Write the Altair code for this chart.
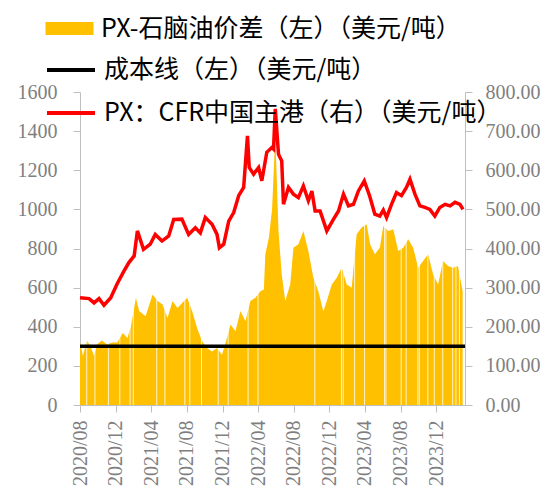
import altair as alt
import pandas as pd

# ---- data ----
spread_name = "PX-石脑油价差（左）（美元/吨）"
cost_name = "成本线（左）（美元/吨）"
price_name = "PX：CFR中国主港（右）（美元/吨）"

spread_dates = [
    "2020-08-01", "2020-08-11", "2020-08-24", "2020-09-06", "2020-09-18", "2020-09-28",
    "2020-10-15", "2020-11-01", "2020-11-19", "2020-12-06", "2020-12-25", "2021-01-10",
    "2021-01-22", "2021-02-08", "2021-02-19", "2021-03-13", "2021-04-06", "2021-04-23",
    "2021-05-10", "2021-05-27", "2021-06-13", "2021-06-30", "2021-07-15", "2021-08-02",
    "2021-08-19", "2021-09-05", "2021-09-22", "2021-10-09", "2021-10-26", "2021-11-12",
    "2021-11-29", "2021-12-16", "2021-12-28", "2022-01-14", "2022-01-31", "2022-02-17",
    "2022-03-06", "2022-03-23", "2022-04-09", "2022-04-21", "2022-04-26", "2022-05-08",
    "2022-05-19", "2022-05-30", "2022-06-10", "2022-06-21", "2022-07-03", "2022-07-20",
    "2022-07-31", "2022-08-17", "2022-09-03", "2022-09-20", "2022-10-07", "2022-10-24",
    "2022-11-10", "2022-11-22", "2022-12-09", "2022-12-26", "2023-01-12", "2023-01-29",
    "2023-02-15", "2023-03-04", "2023-03-21", "2023-04-07", "2023-04-19", "2023-05-05",
    "2023-05-22", "2023-06-03", "2023-06-20", "2023-07-07", "2023-07-24", "2023-08-10",
    "2023-08-27", "2023-09-13", "2023-09-30", "2023-10-17", "2023-11-03", "2023-11-20",
    "2023-12-07", "2023-12-24", "2024-01-10", "2024-01-27", "2024-02-13", "2024-02-29",
]
spread_vals = [
    320, 250, 330, 300, 250, 310,
    330, 310, 320, 320, 368, 343,
    403, 548, 480, 454, 565, 531,
    514, 445, 531, 496, 520, 548,
    480, 394, 326, 291, 274, 291,
    257, 343, 411, 377, 480, 428,
    531, 548, 582, 590, 770, 855,
    1000, 1380, 890, 668, 531, 616,
    804, 822, 890, 787, 650, 582,
    479, 531, 616, 650, 702, 616,
    599, 873, 907, 924, 822, 770,
    804, 915, 890, 898, 787, 804,
    847, 804, 702, 736, 770, 668,
    616, 736, 710, 702, 710, 582,
]
# days on which the spread series has no value (thin white gaps in the fill)
gap_dates = [
    "2020-08-24", "2020-09-21", "2020-11-06", "2020-12-15", "2021-01-19", "2021-01-30",
    "2021-04-20", "2021-05-18", "2021-07-25", "2021-08-11", "2021-09-20", "2021-11-16",
    "2021-12-20", "2022-02-26", "2022-04-01", "2022-10-12", "2023-01-11", "2023-01-17",
    "2023-02-25", "2023-03-31", "2023-06-07", "2023-06-12", "2023-08-03", "2023-08-20",
    "2023-09-29", "2023-10-04", "2023-11-02", "2023-11-24", "2023-12-23", "2024-01-26",
    "2024-02-06", "2024-02-18",
]

cost_dates = ["2020-08-01", "2024-03-08"]
cost_vals = [300, 300]

price_dates = [
    "2020-08-01", "2020-09-01", "2020-09-18", "2020-10-05", "2020-10-22", "2020-11-14",
    "2020-12-06", "2020-12-29", "2021-01-15", "2021-02-02", "2021-02-13", "2021-03-06",
    "2021-03-29", "2021-04-15", "2021-05-08", "2021-05-31", "2021-06-17", "2021-07-15",
    "2021-08-07", "2021-08-30", "2021-09-16", "2021-10-03", "2021-10-26", "2021-11-12",
    "2021-11-20", "2021-12-05", "2021-12-22", "2022-01-08", "2022-01-25", "2022-02-11",
    "2022-02-24", "2022-03-02", "2022-03-17", "2022-04-03", "2022-04-14", "2022-05-01",
    "2022-05-18", "2022-05-24", "2022-05-30", "2022-06-10", "2022-06-21", "2022-06-27",
    "2022-07-14", "2022-07-31", "2022-08-17", "2022-09-03", "2022-09-20", "2022-10-02",
    "2022-10-13", "2022-10-30", "2022-11-22", "2022-12-15", "2023-01-01", "2023-01-18",
    "2023-02-04", "2023-02-21", "2023-03-10", "2023-03-30", "2023-04-17", "2023-05-05",
    "2023-05-22", "2023-06-03", "2023-06-14", "2023-07-01", "2023-07-18", "2023-08-04",
    "2023-08-21", "2023-09-02", "2023-09-19", "2023-10-06", "2023-10-23", "2023-11-09",
    "2023-11-26", "2023-12-13", "2023-12-31", "2024-01-17", "2024-02-03", "2024-02-20",
    "2024-03-01",
]
price_vals = [
    274, 272, 261, 272, 255, 274,
    310, 342, 364, 381, 445, 398,
    411, 436, 419, 432, 474, 475,
    436, 453, 440, 479, 462, 436,
    402, 411, 470, 492, 535, 556,
    688, 607, 590, 607, 573, 646,
    658, 654, 757, 641, 624, 513,
    556, 539, 530, 560, 522, 547,
    496, 496, 445, 475, 496, 539,
    509, 513, 547, 573, 535, 488,
    483, 498, 479, 513, 543, 535,
    556, 577, 539, 509, 505, 500,
    483, 505, 513, 509, 518, 513,
    500,
]

x_tick_months = [(2020, 8), (2020, 12), (2021, 4), (2021, 8), (2021, 12), (2022, 4),
                 (2022, 8), (2022, 12), (2023, 4), (2023, 8), (2023, 12)]
left_ticks = [0, 200, 400, 600, 800, 1000, 1200, 1400, 1600]
right_ticks = [0, 100, 200, 300, 400, 500, 600, 700, 800]

# ---- frames ----
spread_df = pd.DataFrame({"date": spread_dates, "v": spread_vals, "s1": spread_name})
gap_df = pd.DataFrame({"date": gap_dates, "lo": 0, "hi": 1600})
cost_df = pd.DataFrame({"date": cost_dates, "v": cost_vals, "s2": cost_name})
price_df = pd.DataFrame({"date": price_dates, "v": price_vals, "s2": price_name})

GOLD = "#FFC000"
AXIS_GRAY = "#BFBFBF"
LABEL_GRAY = "#7F7F7F"
SERIF = "Liberation Serif"
CJK = "Noto Sans CJK SC"

x_enc = alt.X(
    "date:T",
    scale=alt.Scale(
        type="utc",
        domain=[alt.DateTime(year=2020, month=8, date=1, utc=True),
                alt.DateTime(year=2024, month=3, date=8, utc=True)],
    ),
    axis=alt.Axis(
        values=[alt.DateTime(year=y, month=m, date=1, utc=True) for y, m in x_tick_months],
        labelExpr="utcFormat(datum.value, '%Y/%m')",
        labelAngle=270, labelAlign="right", labelBaseline="middle",
        labelFont=SERIF, labelFontSize=20, labelColor=LABEL_GRAY,
        labelPadding=8, tickSize=7, tickColor=AXIS_GRAY, domainColor=AXIS_GRAY,
        grid=False, title=None, labelOverlap=False,
    ),
)

left_scale = alt.Scale(domain=[0, 1600], nice=False)
left_axis = alt.Axis(
    values=left_ticks, format="d", orient="left",
    labelFont=SERIF, labelFontSize=20, labelColor=LABEL_GRAY, labelPadding=16,
    tickSize=7, tickColor=AXIS_GRAY, domainColor=AXIS_GRAY, grid=False, title=None,
)
right_scale = alt.Scale(domain=[0, 800], nice=False)
right_axis = alt.Axis(
    values=right_ticks, format=".2f", orient="right",
    labelFont=SERIF, labelFontSize=20, labelColor=LABEL_GRAY, labelPadding=13,
    tickSize=7, tickColor=AXIS_GRAY, domainColor=AXIS_GRAY, grid=False, title=None,
)

fill_legend = alt.Legend(
    title=None, orient="none", legendX=-23, legendY=-76, padding=0,
    symbolType="M-2,-0.55H2V0.55H-2Z", symbolSize=576, symbolStrokeWidth=0,
    labelFont=CJK, labelFontSize=25, labelColor="#000000", labelOffset=19,
    labelLimit=700,
)
stroke_scale = alt.Scale(domain=[cost_name, price_name], range=["#000000", "#FF0000"])
stroke_legend = alt.Legend(
    title=None, orient="none", legendX=-23, legendY=-36, padding=0,
    symbolType="M-2,0H2", symbolSize=576, symbolStrokeWidth=4,
    labelFont=CJK, labelFontSize=25, labelColor="#000000", labelOffset=19,
    labelLimit=700, rowPadding=16,
)

area = alt.Chart(spread_df).mark_area(opacity=1, interpolate="linear").encode(
    x=x_enc,
    y=alt.Y("v:Q", scale=left_scale, axis=left_axis),
    fill=alt.Fill("s1:N", scale=alt.Scale(domain=[spread_name], range=[GOLD]), legend=fill_legend),
)
gaps = alt.Chart(gap_df).mark_rule(color="#FFFFFF", strokeWidth=1, opacity=0.8).encode(
    x=x_enc,
    y=alt.Y("lo:Q", scale=left_scale, axis=left_axis),
    y2="hi:Q",
)
cost = alt.Chart(cost_df).mark_line(strokeWidth=3.5).encode(
    x=x_enc,
    y=alt.Y("v:Q", scale=left_scale, axis=left_axis),
    stroke=alt.Stroke("s2:N", scale=stroke_scale, legend=stroke_legend),
)
price = alt.Chart(price_df).mark_line(strokeWidth=3.5).encode(
    x=x_enc,
    y=alt.Y("v:Q", scale=right_scale, axis=right_axis),
    stroke=alt.Stroke("s2:N", scale=stroke_scale, legend=stroke_legend),
)

left = alt.layer(area, gaps, cost)
chart = alt.layer(left, price).resolve_scale(y="independent").properties(
    width=385, height=313,
    padding={"left": 72, "top": 84, "right": 80, "bottom": 86},
    autosize=alt.AutoSizeParams(type="none"),
).configure_view(stroke=None)

chart.save("out.html", embed_options={"renderer": "svg", "actions": False})
